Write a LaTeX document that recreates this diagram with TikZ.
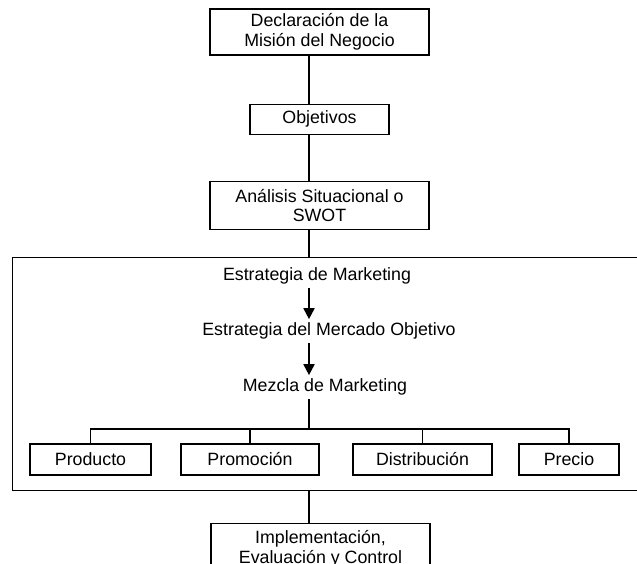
\documentclass[tikz,border=0pt]{standalone}
\usepackage{fontspec}
\setmainfont{Liberation Sans}
\usetikzlibrary{positioning,arrows.meta}

\begin{document}
\begin{tikzpicture}[
    x=1pt, y=-1pt,
    node distance=48pt,
    caja/.style={draw, line width=1.2pt, minimum width=219pt, minimum height=46pt,
                 align=center, inner sep=2pt, font=\fontsize{17.8}{19.5}\selectfont},
    cajita/.style={draw, line width=1.2pt, minimum height=31pt, inner sep=2pt,
                   font=\fontsize{17.8}{19.5}\selectfont},
    texto/.style={font=\fontsize{17.8}{19.5}\selectfont},
    linea/.style={line width=1.1pt},
    flecha/.style={-{Triangle[length=11pt,width=11pt]}, line width=1.8pt},
  ]
    \useasboundingbox (0,0) rectangle (637,564);
    \clip (0,0) rectangle (637,564);

    % Cadena superior
    \node[caja] (mision) at (319.5,32) {Declaración de la\\Misión del Negocio};
    \node[caja, minimum width=139pt, minimum height=30pt, below=48pt of mision] (obj)
      {Objetivos};
    \node[caja, minimum height=48pt, below=46pt of obj] (swot)
      {Análisis Situacional o\\SWOT};
    \coordinate (eje) at (309,0);

    % Marco de la estrategia
    \node[draw, line width=1.2pt, anchor=north west, inner sep=0pt,
          minimum width=640pt, minimum height=233pt] (marco) at (12,257) {};
    \node[texto] (estrat) at (317,276) {Estrategia de Marketing};
    \node[texto] (mercado) at (329,331) {Estrategia del Mercado Objetivo};
    \node[texto] (mezcla) at (325,387) {Mezcla de Marketing};

    % Las cuatro P
    \node[cajita, minimum width=121pt] (producto) at (90.5,459.5) {Producto};
    \node[cajita, minimum width=138pt] (promocion) at (250,459.5) {Promoción};
    \node[cajita, minimum width=139pt] (distribucion) at (422.5,459.5) {Distribución};
    \node[cajita, minimum width=100pt] (precio) at (569,459.5) {Precio};
    \coordinate (rama) at (309,429);

    \node[caja, minimum height=50pt, anchor=north] (impl) at (320.5,523)
      {Implementación,\\Evaluación y Control};

    % Conectores
    \draw[linea] (mision.south -| eje) -- (obj.north -| eje);
    \draw[linea] (obj.south -| eje) -- (swot.north -| eje);
    \draw[linea] (swot.south -| eje) -- (marco.north -| eje);
    \draw[flecha] (estrat.south -| eje) -- (mercado.north -| eje);
    \draw[flecha] (mercado.south -| eje) -- (mezcla.north -| eje);
    \draw[linea] (mezcla.south -| eje) -- (rama);
    \draw[linea] (producto.north) |- (rama) -| (precio.north);
    \foreach \p in {promocion, distribucion}
      \draw[linea] (\p.north) -- (\p.north |- rama);
    \draw[linea] (marco.south -| eje) -- (impl.north -| eje);
  \end{tikzpicture}
\end{document}
